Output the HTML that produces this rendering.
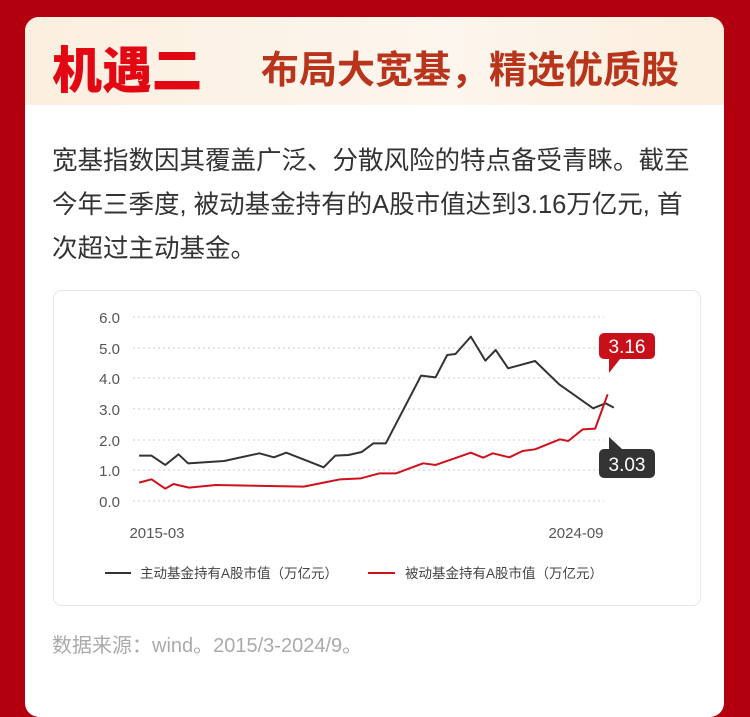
<!DOCTYPE html>
<html><head><meta charset="utf-8"><style>
body{margin:0;width:750px;height:682px;background:#b3000e;overflow:hidden;font-family:"Liberation Sans","Noto Sans CJK SC",sans-serif;}
.card{position:absolute;left:25px;top:17px;width:699px;height:700px;background:#fff;border-radius:14px;overflow:hidden}
.head{height:88px;background:linear-gradient(90deg,#fbefdf,#fdf6ee 60%,#fbeedd);position:relative}
.t1{position:absolute;left:27px;top:14px;font-size:50px;font-weight:900;color:#e30613;letter-spacing:0px}
.t2{position:absolute;left:236px;top:22px;font-size:38px;font-weight:bold;color:#b8341b}
.body{position:absolute;left:27px;top:122px;width:680px;font-size:25.5px;line-height:44px;color:#333;white-space:nowrap}
.src{position:absolute;left:27px;top:612px;font-size:20px;color:#aaa}
</style></head><body>
<div class="card">
<div class="head"><div class="t1">机遇二</div><div class="t2">布局大宽基，精选优质股</div></div>
<div class="body">宽基指数因其覆盖广泛、分散风险的特点备受青睐。截至<br>今年三季度, 被动基金持有的A股市值达到3.16万亿元, 首<br>次超过主动基金。</div>
<div class="src">数据来源：wind。2015/3-2024/9。</div>
</div>
<svg style="position:absolute;left:0;top:0" width="750" height="682">
<rect x="53.5" y="290.5" width="647" height="315" rx="8" fill="#fff" stroke="#e6e6e6"/>
<g stroke="#ccc" stroke-dasharray="2,3">
<line x1="133" x2="604" y1="317" y2="317"/><line x1="133" x2="604" y1="348" y2="348"/><line x1="133" x2="604" y1="378" y2="378"/><line x1="133" x2="604" y1="409" y2="409"/><line x1="133" x2="604" y1="440" y2="440"/><line x1="133" x2="604" y1="470" y2="470"/><line x1="133" x2="604" y1="501" y2="501"/>
</g>
<g font-size="15" fill="#555" text-anchor="end" font-family="Liberation Sans">
<text x="120" y="323">6.0</text><text x="120" y="354">5.0</text><text x="120" y="384">4.0</text><text x="120" y="415">3.0</text><text x="120" y="446">2.0</text><text x="120" y="476">1.0</text><text x="120" y="507">0.0</text>
<text x="157" y="538" text-anchor="middle">2015-03</text><text x="576" y="538" text-anchor="middle">2024-09</text>
</g>
<g transform="translate(50,290) scale(0.4146,0.3333)" fill="none" stroke-width="2" stroke-linejoin="round">
<polyline vector-effect="non-scaling-stroke" stroke="#333" points="215,497 245,497 278,525 310,493 333,520 420,513 505,490 540,502 570,488 660,532 688,497 720,495 752,486 780,460 810,460 895,257 930,262 958,195 978,192 1015,140 1050,212 1075,180 1105,235 1170,213 1228,283 1310,355 1340,340 1360,353"/>
<polyline vector-effect="non-scaling-stroke" stroke="#d0101a" points="215,578 245,568 278,596 298,582 335,593 400,585 480,587 612,590 660,578 700,568 750,565 795,550 835,550 900,520 930,525 1015,488 1045,503 1068,490 1108,502 1140,483 1170,478 1230,448 1250,453 1285,418 1315,416 1345,313"/>
</g>
<path d="M604,333 h46 a5,5 0 0 1 5,5 v16 a5,5 0 0 1 -5,5 h-30 l-11,14 v-14 h-5 a5,5 0 0 1 -5,-5 v-16 a5,5 0 0 1 5,-5z" fill="#c8101a"/>
<text x="627" y="353" font-size="19" fill="#fff" text-anchor="middle" font-family="Liberation Sans">3.16</text>
<path d="M604,449 h5 v-12 l13,12 h28 a5,5 0 0 1 5,5 v19 a5,5 0 0 1 -5,5 h-46 a5,5 0 0 1 -5,-5 v-19 a5,5 0 0 1 5,-5z" fill="#333"/>
<text x="627" y="471" font-size="19" fill="#fff" text-anchor="middle" font-family="Liberation Sans">3.03</text>
<line x1="105" x2="131" y1="573" y2="573" stroke="#333" stroke-width="2"/>
<line x1="368" x2="395" y1="573" y2="573" stroke="#d0101a" stroke-width="2"/>
<g font-size="13.5" fill="#444"><text x="140" y="578">主动基金持有A股市值（万亿元）</text><text x="405" y="578">被动基金持有A股市值（万亿元）</text></g>
</svg>
</body></html>
